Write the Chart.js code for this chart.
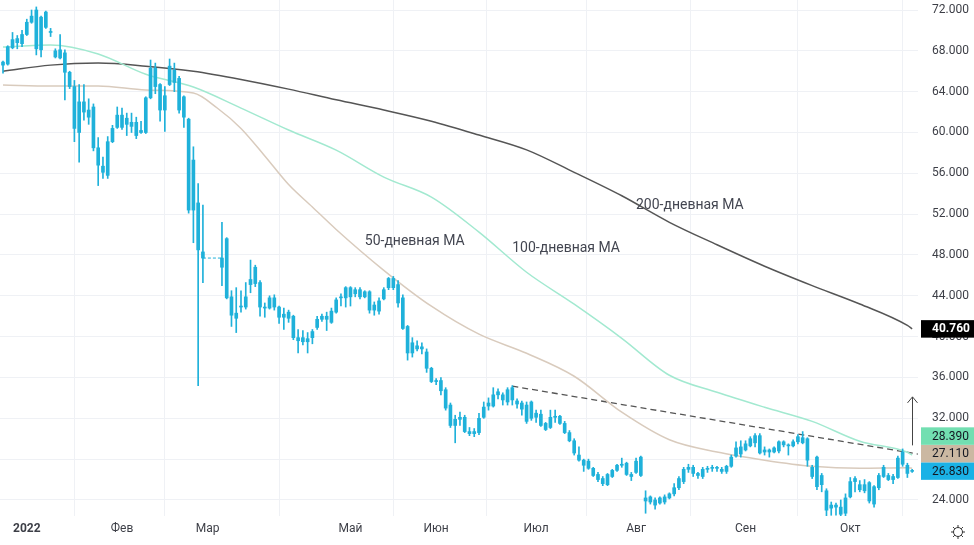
<!DOCTYPE html>
<html><head><meta charset="utf-8">
<script src="https://cdn.jsdelivr.net/npm/chart.js@4.4.1/dist/chart.umd.min.js"></script>
<style>html,body{margin:0;padding:0;background:#fff;overflow:hidden}canvas{display:block}</style>
</head><body>
<canvas id="c" width="974" height="545"></canvas>
<script>
// ---- DATA (bar index = trading day; nulls = exchange closed) ----
const open  = [66.6,66.7,68.3,69.2,68.7,69.6,70.8,68.2,71.3,70.3,69.9,68.0,67.3,67.8,65.9,64.5,60.0,62.0,62.2,62.5,58.5,56.7,55.8,59.1,60.5,61.7,60.8,61.0,61.0,60.2,60.0,63.4,66.3,64.7,62.2,64.7,66.1,65.3,63.5,61.3,52.4,53.1,48.3,null,null,null,47.7,49.6,43.9,42.3,42.9,42.9,45.1,45.2,45.3,42.9,42.8,43.8,42.9,42.2,41.8,42.0,39.9,39.5,39.8,39.9,40.9,41.7,42.0,41.4,42.4,43.8,43.8,44.8,44.2,44.6,43.9,44.4,42.6,42.5,43.7,44.8,45.7,45.1,43.8,41.0,38.4,39.1,38.8,38.5,36.9,35.6,35.7,34.8,33.3,31.3,31.9,32.1,30.7,30.5,30.6,32.1,33.2,33.2,34.3,34.3,33.6,35.0,33.7,33.5,33.3,32.0,32.5,32.4,31.5,31.1,32.1,32.2,31.5,30.6,29.8,28.4,27.9,27.1,27.1,26.5,26.1,25.5,26.3,26.9,27.4,27.6,26.5,26.7,28.2,24.2,23.8,24.0,23.7,23.8,24.2,24.6,25.2,25.8,27.0,27.2,26.6,26.3,27.0,27.1,27.2,27.0,26.8,27.3,28.3,29.2,28.9,29.3,29.6,30.3,28.7,28.9,28.7,28.8,29.7,29.4,29.3,29.7,30.1,30.0,27.2,28.2,26.4,24.9,23.2,23.5,23.3,22.7,24.3,25.8,25.5,24.9,25.7,23.6,25.2,26.3,26.4,26.0,26.2,27.5,27.4,26.8];
const high  = [67.0,68.5,69.8,69.5,70.0,71.1,72.0,72.3,71.4,71.9,70.2,68.2,69.6,68.1,66.0,65.1,64.7,64.7,63.3,62.8,59.5,57.6,59.6,60.7,62.5,62.4,61.9,61.9,61.5,61.1,63.5,67.1,66.8,64.8,64.5,67.2,66.8,65.5,63.6,61.4,58.6,55.0,52.9,null,null,null,51.2,49.7,44.5,44.8,44.5,45.3,47.5,47.0,45.5,43.3,44.0,44.1,43.0,42.8,42.6,42.1,40.7,40.6,40.4,40.7,42.0,42.2,42.4,42.8,43.8,44.2,44.9,44.9,44.8,44.8,44.5,44.5,43.4,43.8,44.8,45.8,45.9,45.5,44.1,41.1,39.9,39.6,39.4,38.8,37.0,35.9,36.0,35.0,33.5,32.3,32.6,32.3,31.1,31.0,32.5,33.6,34.0,35.0,34.9,34.5,35.0,35.2,33.9,33.7,33.6,33.7,32.8,32.8,31.6,32.8,32.8,32.3,31.7,30.8,30.0,29.2,28.0,28.0,27.2,26.7,26.3,26.6,27.0,27.5,28.1,27.7,26.7,28.1,28.3,24.9,24.4,24.2,24.3,24.5,24.7,25.6,26.3,27.2,27.5,27.4,26.7,27.2,27.3,27.4,27.3,27.2,27.4,28.4,29.7,29.8,29.8,30.2,30.5,30.5,29.2,29.0,29.2,29.8,29.8,29.5,29.9,30.4,30.7,30.1,27.4,28.3,26.6,25.1,23.8,23.7,24.0,24.6,26.2,26.3,25.9,26.0,25.8,25.4,26.6,27.4,26.6,26.5,28.3,29.0,27.6,27.0];
const low   = [65.8,66.6,68.2,68.2,68.4,69.5,70.7,67.6,67.4,70.2,69.4,67.3,67.2,63.2,64.3,59.1,57.1,61.2,60.8,58.2,54.8,55.5,55.5,59.0,60.4,60.3,59.7,60.0,59.4,59.9,59.9,63.3,63.8,61.1,60.1,64.6,64.0,61.9,60.5,52.1,49.2,35.2,45.3,null,null,null,45.0,43.7,41.0,40.4,42.4,42.7,44.3,44.9,42.0,41.9,42.7,42.6,41.3,40.7,41.4,39.7,38.4,39.2,38.4,39.3,40.7,41.5,40.6,41.3,42.3,43.0,42.9,43.0,43.9,43.7,43.8,42.3,42.1,42.2,43.6,44.6,44.6,42.9,40.7,37.7,38.0,38.6,38.3,36.5,35.5,35.3,34.3,32.8,31.1,29.6,31.3,30.6,30.3,30.2,30.4,32.0,32.8,33.1,33.9,33.3,33.3,33.3,33.0,32.3,31.5,31.8,31.6,31.2,30.8,31.0,31.6,31.4,30.5,29.7,28.4,27.8,26.8,27.0,26.3,25.8,25.4,25.4,26.2,26.8,27.2,26.4,25.9,26.6,26.3,22.7,23.6,23.1,23.6,23.6,24.1,24.4,25.0,25.6,26.7,26.3,26.1,26.1,26.7,26.8,26.8,26.6,26.6,27.2,28.2,28.2,28.8,29.2,29.2,28.5,28.4,28.2,28.6,28.6,29.2,28.4,29.2,29.5,29.5,27.3,26.1,25.0,24.8,22.2,22.5,22.5,22.3,22.2,24.2,24.8,24.8,24.7,23.7,23.3,25.0,26.2,25.9,25.6,26.1,27.3,26.2,26.7];
const close = [66.9,68.4,69.1,68.8,69.6,70.8,71.4,72.0,68.1,71.8,69.8,67.4,68.1,65.9,64.5,60.4,63.0,63.0,61.5,58.5,56.8,56.1,59.1,60.4,61.7,60.5,61.4,60.6,59.7,60.0,63.4,66.3,64.5,62.2,63.6,66.5,64.9,62.2,61.5,52.4,57.3,48.5,47.7,null,null,null,46.8,43.8,42.1,41.8,43.0,43.9,45.6,46.8,42.9,42.8,43.8,42.9,41.9,41.9,42.4,39.9,39.6,39.9,39.5,40.5,41.7,42.0,41.7,42.5,43.6,43.8,44.8,43.9,44.6,43.9,44.4,42.6,43.1,43.5,44.6,45.7,44.8,43.3,40.8,38.4,39.4,38.8,39.0,36.9,35.6,35.7,34.7,33.0,31.3,31.9,32.1,30.7,30.5,30.7,32.0,33.1,33.5,34.3,34.6,33.8,34.8,33.8,33.4,32.9,31.7,33.6,32.1,31.3,30.9,32.1,32.2,31.5,30.6,29.8,28.6,27.9,27.4,27.8,26.4,26.0,25.6,26.5,26.9,27.4,27.5,26.5,26.3,27.8,26.4,23.9,24.3,23.5,24.2,24.3,24.6,25.2,26.1,27.0,27.2,26.6,26.4,27.0,27.1,27.2,27.1,26.8,27.3,28.2,29.1,28.5,29.5,30.0,30.3,28.6,28.9,28.7,29.1,29.7,29.4,29.3,29.7,30.2,29.6,27.9,26.3,25.3,25.5,23.0,23.5,23.3,22.6,24.2,25.8,26.1,25.0,25.5,23.9,25.3,26.4,27.2,26.0,26.3,28.1,28.7,26.6,26.83];

// moving averages, read at bar indices
const ma50Idx  = [0,10,20,30,40,45,50,55,60,65,70,80,90,100,110,120,130,140,150,160,170,180,190,191];
const ma50Val  = [64.65,64.55,64.55,64.16,63.86,62.4,60.4,57.7,54.9,52.7,50.5,46.5,42.98,40.24,38.37,36.12,32.6,29.9,28.7,27.9,27.3,27.1,27.15,27.11];
const ma100Idx = [0,10,20,30,40,50,60,70,80,90,100,110,120,130,140,150,160,170,180,190,191];
const ma100Val = [68.37,68.57,67.69,65.7,64.45,62.39,60.24,58.27,55.63,53.67,50.24,46.31,43.18,39.84,36.22,34.55,33.08,31.7,29.75,28.67,28.39];
const ma200Idx = [0,10,20,30,40,50,60,70,80,90,100,110,120,130,140,150,160,170,180,190,191];
const ma200Val = [66.0,66.6,66.8,66.5,66.0,65.2,64.25,63.2,62.2,61.1,59.75,58.3,56.1,53.8,51.2,49.0,46.9,45.0,43.2,41.1,40.76];

// trend line and gap connector
const trendIdx = [107,192.2];
const trendVal = [35.15,28.5];
const gapIdx = [42,46];

// axis ticks
const monthIdx = [5,25,43,73,91,112,133,156,178];
const monthLabels = ['2022','Фев','Мар','Май','Июн','Июл','Авг','Сен','Окт'];
const yTicks = [24,28,32,36,40,44,48,52,56,60,64,68,72];

// annotation: arrow (bar index, from, to)
const arrowIdx = 191, arrowFrom = 29.35, arrowTo = 34.1;

// ---- build ----
const FONT = 'Roboto, "Open Sans", sans-serif';
const CANDLE = '#1fb1da';
const bodies = [], wicks = [];
open.forEach((o,i)=>{
  if(o==null) return;
  bodies.push({x:i, y:[Math.min(o,close[i]), Math.max(o,close[i])]});
  wicks.push({x:i, y:[low[i], high[i]]});
});
const pts = (xs, ys) => xs.map((x,i)=>({x, y:ys[i]}));
const gapPts = gapIdx.map(i=> ({x:i, y: i===gapIdx[0] ? close[i] : open[i]}));

const lastClose = close[close.length-1];
const priceLabels = [
  {v: ma200Val[ma200Val.length-1], bg:'#000000', fg:'#ffffff', bold:true},
  {v: ma100Val[ma100Val.length-1], bg:'#72dfb1', fg:'#131722'},
  {v: ma50Val[ma50Val.length-1],  bg:'#cbb8a2', fg:'#131722'},
  {v: lastClose,                  bg:'#1ab2e6', fg:'#131722'},
];
const notes = [
  {text:'50-дневная MA',  x:86.5,  y:49.37},
  {text:'100-дневная MA', x:118.3, y:48.68},
  {text:'200-дневная MA', x:144.3, y:52.8},
];

const overlay = {
  id:'overlay',
  afterDatasetsDraw(chart){
    const {ctx, scales:{x,y}} = chart;
    ctx.save();
    const ax = Math.round(x.getPixelForValue(arrowIdx))+0.5;
    const y0 = y.getPixelForValue(arrowFrom), y1 = y.getPixelForValue(arrowTo);
    ctx.strokeStyle = '#444'; ctx.lineWidth = 1;
    ctx.beginPath(); ctx.moveTo(ax,y0); ctx.lineTo(ax,y1); ctx.stroke();
    ctx.beginPath(); ctx.moveTo(ax-5,y1+6); ctx.lineTo(ax,y1); ctx.lineTo(ax+5,y1+6); ctx.stroke();
    ctx.fillStyle = '#434651';
    ctx.font = '14px ' + FONT;
    ctx.textAlign = 'center'; ctx.textBaseline = 'middle';
    notes.forEach(n=> ctx.fillText(n.text, x.getPixelForValue(n.x), y.getPixelForValue(n.y)));
    ctx.restore();
  },
  afterDraw(chart){
    const {ctx, scales:{y}, chartArea} = chart;
    ctx.save();
    const h = 17.5;
    const items = priceLabels.map(p=>({...p, py: y.getPixelForValue(p.v)})).sort((a,b)=>b.py-a.py);
    for(let i=1;i<items.length;i++){
      if(items[i].py > items[i-1].py - h) items[i].py = items[i-1].py - h;
    }
    const left = chartArea.right + 3;
    items.forEach(p=>{
      ctx.fillStyle = p.bg;
      ctx.fillRect(left, p.py - h/2, chart.width - left, h);
      ctx.fillStyle = p.fg;
      ctx.font = (p.bold?'bold ':'') + '12px ' + FONT;
      ctx.textAlign = 'left'; ctx.textBaseline = 'middle';
      ctx.fillText(p.v.toFixed(3), chartArea.right + 14, p.py + 0.5);
    });
    const gx = 958, gy = 532;
    ctx.strokeStyle = '#333'; ctx.lineWidth = 1;
    ctx.beginPath(); ctx.arc(gx, gy, 4.5, 0, Math.PI*2); ctx.stroke();
    for(let k=0;k<8;k++){
      const a = k*Math.PI/4;
      ctx.beginPath();
      ctx.moveTo(gx+Math.cos(a)*4.5, gy+Math.sin(a)*4.5);
      ctx.lineTo(gx+Math.cos(a)*7, gy+Math.sin(a)*7);
      ctx.stroke();
    }
    ctx.restore();
  }
};

const lineDs = (data, color, width, extra={}) => Object.assign({
  type:'line', data, borderColor:color, borderWidth:width, pointRadius:0,
  fill:false, cubicInterpolationMode:'monotone'
}, extra);

new Chart(document.getElementById('c'), {
  type:'bar',
  data:{ datasets:[
    {type:'bar', data:bodies, backgroundColor:CANDLE, barThickness:3, minBarLength:1, grouped:false, order:0},
    {type:'bar', data:wicks, backgroundColor:CANDLE, barThickness:1, grouped:false, order:1},
    lineDs(gapPts, CANDLE, 1, {borderDash:[3,2], order:2}),
    lineDs(pts(ma50Idx, ma50Val), '#d9cbbd', 1.5, {order:3}),
    lineDs(pts(ma100Idx, ma100Val), '#a2e9d0', 1.5, {order:4}),
    lineDs(pts(ma200Idx, ma200Val), '#555555', 1.5, {order:5}),
    lineDs(pts(trendIdx, trendVal), '#555555', 1.3, {borderDash:[6,4], order:6}),
  ]},
  options:{
    animation:false, responsive:false, devicePixelRatio:1,
    layout:{padding:0},
    plugins:{legend:{display:false}, tooltip:{enabled:false}},
    scales:{
      x:{
        type:'linear', min:-0.63, max:192.23, offset:false,
        grid:{color:'#eff1f5', drawTicks:false},
        border:{display:false},
        afterBuildTicks: ax => { ax.ticks = monthIdx.map(v=>({value:v})); },
        afterFit: ax => { ax.height = 29; ax.paddingLeft = 0; ax.paddingRight = 0; },
        ticks:{
          autoSkip:false, maxRotation:0, padding:6, color:'#3d3f47',
          font: ctx => ({family:FONT, size:12, weight: ctx.index===0 ? 'bold':'normal'}),
          callback: v => { const k = monthIdx.indexOf(v); return k>=0 ? monthLabels[k] : ''; }
        }
      },
      y:{
        type:'linear', position:'right', min:22.43, max:72.98,
        grid:{color:'#eff1f5', drawTicks:false},
        border:{display:false},
        afterBuildTicks: ax => { ax.ticks = yTicks.map(v=>({value:v})); },
        afterFit: ax => { ax.width = 56; ax.paddingTop = 0; ax.paddingBottom = 0; },
        ticks:{
          padding:14, color:'#3d3f47', font:{family:FONT, size:12},
          callback: v => v.toFixed(3)
        }
      }
    }
  },
  plugins:[overlay]
});
</script>
</body></html>
